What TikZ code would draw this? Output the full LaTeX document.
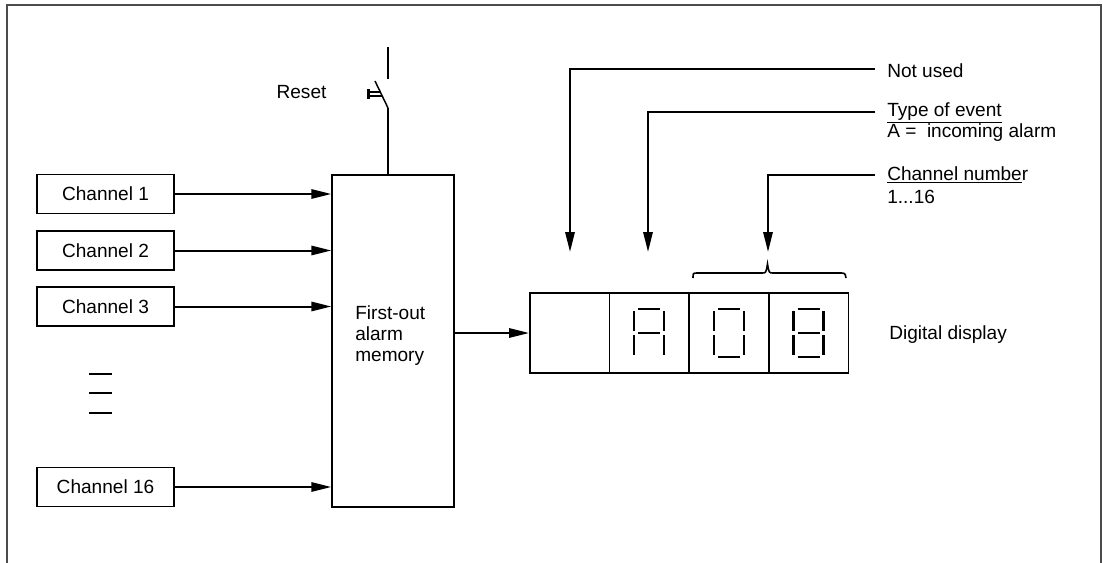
\documentclass[tikz,border=0pt]{standalone}
\usepackage{fontspec}
\setmainfont{Liberation Sans}
\usetikzlibrary{arrows.meta}
\begin{document}
\begin{tikzpicture}[x=0.75pt,y=-0.75pt,
  every node/.style={font=\fontsize{14.3}{15.8}\selectfont, inner sep=0pt},
  chbox/.style={draw, line width=1.1pt, minimum width=102.75pt, minimum height=29.5pt},
  dispbox/.style={draw, line width=1.1pt, minimum width=59.6pt, minimum height=60pt},
  arr/.style={line width=1.5pt, -{Triangle[length=15pt,width=7pt]}},
  seg/.style={line width=1.6pt},
  plain/.style={line width=1.5pt}]
\useasboundingbox (0,0) rectangle (1103,563);
% frame
\draw[line width=1.6pt, color=black!70] (7,563) -- (7,5) -- (1101,5) -- (1101,563);

% channel boxes
\node[chbox] (c1) at (105.5,194) {Channel 1};
\node[chbox] (c2) at (105.5,250.5) {Channel 2};
\node[chbox] (c3) at (105.5,306.5) {Channel 3};
\node[chbox] (c16) at (105.5,487) {Channel 16};

% dashes
\draw[plain] (89,374) -- (112,374) (89,393) -- (112,393) (89,413) -- (112,413);

% memory
\node[draw, line width=1.1pt, minimum width=91.5pt, minimum height=249pt] (mem) at (393,341) {};
\node[align=left, anchor=west] (memtext) at (355,336) {First-out\\alarm\\memory};

\draw[arr] (c1.east) -- (c1.east -| mem.west);
\draw[arr] (c2.east) -- (c2.east -| mem.west);
\draw[arr] (c3.east) -- (c3.east -| mem.west);
\draw[arr] (c16.east) -- (c16.east -| mem.west);

% reset switch
\node (reset) at (301.5,92) {Reset};
\coordinate (swtop) at (388,47);
\coordinate (swa) at (388,79);
\coordinate (swb) at (375,81);
\coordinate (swc) at (388,108);
\draw[plain] (swtop) -- (swa);
\draw[plain, line width=1.1pt] (swb) -- (swc);
\draw[plain] (swc) -- (swc |- mem.north);
\draw[line width=1.8pt] (368.5,89) -- (368.5,99);
\draw[line width=0.8pt] (368,92) -- (381,92) (368,96) -- (381.5,96);

% display
\node[dispbox] (d1) at (569.5,333) {};
\node[dispbox] (d2) at (649,333) {};
\node[dispbox] (d3) at (729,333) {};
\node[dispbox] (d4) at (808.5,333) {};
\node[anchor=west] (dlabel) at (889,335) {Digital display};

\draw[arr] (mem.east |- d1.west) -- (d1.west);

% digit A
\begin{scope}[shift={(d2.center)}]
  \draw[seg] (-11,-24) -- (11,-24) (-11,0) -- (11,0);
  \draw[seg] (-15,-22) -- (-15,-2) (15,-22) -- (15,-2) (-15,2) -- (-15,22) (15,2) -- (15,22);
\end{scope}
% digit 0
\begin{scope}[shift={(d3.center)}]
  \draw[seg] (-11,-24) -- (11,-24) (-11,24) -- (11,24);
  \draw[seg] (-15,-22) -- (-15,-2) (15,-22) -- (15,-2) (-15,2) -- (-15,22) (15,2) -- (15,22);
\end{scope}
% digit 8
\begin{scope}[shift={(d4.center)}]
  \draw[seg] (-11,-24) -- (11,-24) (-11,0) -- (11,0) (-11,24) -- (11,24);
  \draw[seg] (-15,-22) -- (-15,-2) (15,-22) -- (15,-2) (-15,2) -- (-15,22) (15,2) -- (15,22);
\end{scope}

% brace
\draw[line width=1.2pt] (693,278) .. controls (693,273) .. (698,273) -- (762,273)
  .. controls (766,273) .. (767.5,264) .. controls (769,273) .. (773,273) -- (840,273)
  .. controls (845,273) .. (846,278);

% labels and pointers
\node[anchor=west] (nu) at (887,71) {Not used};
\node[anchor=west] (te) at (887,113) {\underline{Type of event}};
\node[anchor=west] (tea) at (887,133) {A =\ \ incoming alarm};
\node[anchor=west] (cn) at (887,175) {\underline{Channel numbe}r};
\node[anchor=west] (cnr) at (887,197) {1...16};

\coordinate (nuend) at (875,69);
\coordinate (teend) at (875,112);
\coordinate (cnend) at (875,175);
\coordinate (p1) at (570,252);
\coordinate (p2) at (648,252);
\coordinate (p3) at (768,252);
\draw[arr] (nuend) -| (p1);
\draw[arr] (teend) -| (p2);
\draw[arr] (cnend) -| (p3);
\end{tikzpicture}
\end{document}
